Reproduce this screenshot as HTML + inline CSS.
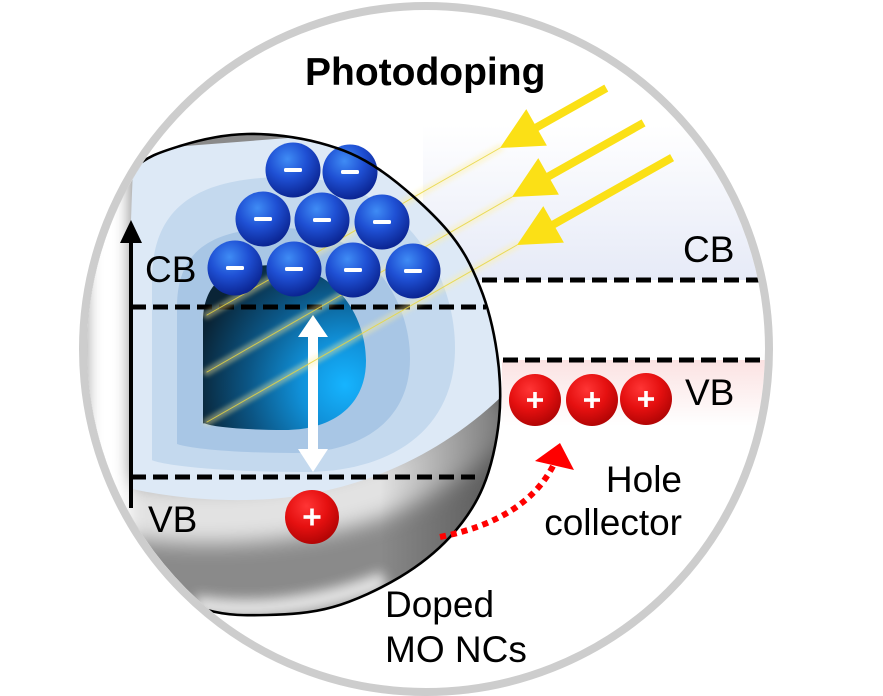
<!DOCTYPE html>
<html><head><meta charset="utf-8">
<style>
html,body{margin:0;padding:0;background:#fff;}
svg{display:block;}
text{font-family:"Liberation Sans",Arial,sans-serif;fill:#000;}
</style></head><body>
<svg width="883" height="696" viewBox="0 0 883 696" xmlns="http://www.w3.org/2000/svg">
<defs>
<clipPath id="outer"><circle cx="426" cy="349" r="339"/></clipPath>
<clipPath id="sph"><path d="M 40,380 L 90,230 C 102,195 117,184 132,170 C 147,156 160.8,152 180,146 C 199.2,140 223.7,134.5 247,134 C 270.3,133.5 297.8,137 320,143 C 342.2,149 358.8,155.5 380,170 C 401.2,184.5 430.3,210.5 447,230 C 463.7,249.5 471.7,266.5 480,287 C 488.3,307.5 493.8,330.8 497,353 C 500.2,375.2 501.3,397.7 499,420 C 496.7,442.3 491.2,467.5 483,487 C 474.8,506.5 463.8,522 450,537 C 436.2,552 419.5,565.3 400,577 C 380.5,588.7 355.2,600.7 333,607 C 310.8,613.3 288,614.5 267,615 C 246,615.5 228.2,615.8 207,610 L 150,640 Z"/></clipPath>
<linearGradient id="rdark" x1="0" y1="0" x2="1" y2="0">
 <stop offset="0" stop-color="#3a3a3a" stop-opacity="0"/>
 <stop offset="1" stop-color="#3a3a3a" stop-opacity="0.72"/>
</linearGradient>
<linearGradient id="lav" x1="0" y1="0" x2="0" y2="1">
 <stop offset="0" stop-color="#ffffff"/>
 <stop offset="1" stop-color="#e6eaf7"/>
</linearGradient>
<linearGradient id="pink" x1="0" y1="0" x2="0" y2="1">
 <stop offset="0" stop-color="#fbe2e2"/>
 <stop offset="1" stop-color="#ffffff"/>
</linearGradient>
<radialGradient id="core" gradientUnits="userSpaceOnUse" cx="345" cy="385" r="150">
 <stop offset="0" stop-color="#16b4ff"/>
 <stop offset="0.3" stop-color="#1090d8"/>
 <stop offset="0.65" stop-color="#0b5584"/>
 <stop offset="1" stop-color="#0a2436"/>
</radialGradient>
<radialGradient id="eb" cx="0.4" cy="0.3" r="0.7">
 <stop offset="0" stop-color="#3f8cf5"/>
 <stop offset="0.5" stop-color="#1f50d4"/>
 <stop offset="1" stop-color="#0b2593"/>
</radialGradient>
<radialGradient id="hb" cx="0.4" cy="0.3" r="0.7">
 <stop offset="0" stop-color="#ff3535"/>
 <stop offset="0.55" stop-color="#e51010"/>
 <stop offset="1" stop-color="#b30505"/>
</radialGradient>
<filter id="blur10" filterUnits="userSpaceOnUse" x="0" y="0" width="883" height="696"><feGaussianBlur stdDeviation="10"/></filter>
<filter id="blur8" filterUnits="userSpaceOnUse" x="0" y="0" width="883" height="696"><feGaussianBlur stdDeviation="8"/></filter>
<filter id="blur6" filterUnits="userSpaceOnUse" x="0" y="0" width="883" height="696"><feGaussianBlur stdDeviation="6"/></filter>
<filter id="blur2" filterUnits="userSpaceOnUse" x="0" y="0" width="883" height="696"><feGaussianBlur stdDeviation="2"/></filter>
</defs>

<!-- background bands -->
<g clip-path="url(#outer)">
 <rect x="423" y="125" width="380" height="155" fill="url(#lav)"/>
 <rect x="502" y="360" width="300" height="66" fill="url(#pink)"/>
</g>

<!-- right dashed lines -->
<line x1="482" y1="280" x2="762" y2="280" stroke="#000" stroke-width="5" stroke-dasharray="15 7"/>
<line x1="503" y1="360" x2="766" y2="360" stroke="#000" stroke-width="5" stroke-dasharray="15 7"/>

<!-- sphere -->
<g clip-path="url(#outer)">
 <g clip-path="url(#sph)">
  <rect x="0" y="100" width="520" height="560" fill="#8a8a8a"/>
  <path d="M 60,498 C 160,520 230,518 290,510 C 380,500 450,460 505,405" fill="none" stroke="#e2e2e2" stroke-width="56" filter="url(#blur10)"/>
  <rect x="86" y="130" width="44" height="430" fill="#ffffff" filter="url(#blur8)"/>
  <path d="M 195,604 C 250,614 320,606 385,580" fill="none" stroke="#f4f4f4" stroke-width="18" opacity="0.85" filter="url(#blur6)"/>
  <rect x="380" y="380" width="140" height="280" fill="url(#rdark)"/>
  <path d="M 132,489 C 128,380 128,260 134,150 L 520,120 L 520,397 L 501,397 C 440,455 360,492 270,499 C 210,503 160,495 132,489 Z" fill="#dde9f6"/>
  <path d="M 152,460.2 L 152,280.25 C 152,206.5 197.45,177 288.35,177 C 394.4,177 455,265.5 455,348.1 C 455,427.75 394.4,472 303.5,472 C 227.75,472 167.15,466.1 152,460.2 Z" fill="#c4d9ee"/>
  <path d="M 177,444 L 177,306.75 C 177,250.5 211.95,228 281.85,228 C 363.4,228 410,295.5 410,358.5 C 410,419.25 363.4,453 293.5,453 C 235.25,453 188.65,448.5 177,444 Z" fill="#a8c6e5"/>
  <path d="M 203,423.4 L 203,322.75 C 203,281.5 227.45,265 276.35,265 C 333.4,265 366,314.5 366,360.7 C 366,405.25 333.4,430 284.5,430 C 243.75,430 211.15,426.7 205,423.4 Z" fill="url(#core)"/>
 </g>
</g>

<!-- left dashed lines -->
<line x1="131" y1="307" x2="486" y2="307" stroke="#000" stroke-width="5" stroke-dasharray="15 7"/>
<line x1="131" y1="477" x2="475" y2="477" stroke="#000" stroke-width="5" stroke-dasharray="15 7"/>

<!-- energy axis -->
<line x1="131" y1="238" x2="131" y2="508" stroke="#000" stroke-width="4"/>
<polygon points="131,220 120,243 142,243" fill="#000"/>

<!-- white double arrow -->
<polygon points="313,315 298,337 308,337 308,449 298,449 313,472 328,449 318,449 318,337 328,337" fill="#ffffff"/>

<!-- thin light rays -->
<g stroke-linecap="round">
 <line x1="500" y1="148" x2="207" y2="315" stroke="#fff0a0" stroke-width="8" opacity="0.4" filter="url(#blur2)"/>
 <line x1="512" y1="197" x2="207" y2="372" stroke="#fff0a0" stroke-width="8" opacity="0.4" filter="url(#blur2)"/>
 <line x1="517" y1="245" x2="207" y2="422" stroke="#fff0a0" stroke-width="8" opacity="0.4" filter="url(#blur2)"/>
 <line x1="500" y1="148" x2="207" y2="315" stroke="#e8d640" stroke-width="1" opacity="0.85"/>
 <line x1="512" y1="197" x2="207" y2="372" stroke="#e8d640" stroke-width="1" opacity="0.85"/>
 <line x1="517" y1="245" x2="207" y2="422" stroke="#e8d640" stroke-width="1" opacity="0.85"/>
</g>

<!-- electrons -->
<g>
 <g transform="translate(293,170)"><circle r="27.5" fill="url(#eb)"/><rect x="-9" y="-2" width="18" height="4" rx="1.5" fill="#fff"/></g>
 <g transform="translate(350,172)"><circle r="27.5" fill="url(#eb)"/><rect x="-9" y="-2" width="18" height="4" rx="1.5" fill="#fff"/></g>
 <g transform="translate(263,219)"><circle r="27.5" fill="url(#eb)"/><rect x="-9" y="-2" width="18" height="4" rx="1.5" fill="#fff"/></g>
 <g transform="translate(322,220)"><circle r="27.5" fill="url(#eb)"/><rect x="-9" y="-2" width="18" height="4" rx="1.5" fill="#fff"/></g>
 <g transform="translate(382,222)"><circle r="27.5" fill="url(#eb)"/><rect x="-9" y="-2" width="18" height="4" rx="1.5" fill="#fff"/></g>
 <g transform="translate(235,268)"><circle r="27.5" fill="url(#eb)"/><rect x="-9" y="-2" width="18" height="4" rx="1.5" fill="#fff"/></g>
 <g transform="translate(294,269)"><circle r="27.5" fill="url(#eb)"/><rect x="-9" y="-2" width="18" height="4" rx="1.5" fill="#fff"/></g>
 <g transform="translate(353,270)"><circle r="27.5" fill="url(#eb)"/><rect x="-9" y="-2" width="18" height="4" rx="1.5" fill="#fff"/></g>
 <g transform="translate(413,271)"><circle r="27.5" fill="url(#eb)"/><rect x="-9" y="-2" width="18" height="4" rx="1.5" fill="#fff"/></g>
</g>

<!-- sphere outline -->
<g clip-path="url(#outer)">
 <path d="M 90,230 C 102,195 117,184 132,170 C 147,156 160.8,152 180,146 C 199.2,140 223.7,134.5 247,134 C 270.3,133.5 297.8,137 320,143 C 342.2,149 358.8,155.5 380,170 C 401.2,184.5 430.3,210.5 447,230 C 463.7,249.5 471.7,266.5 480,287 C 488.3,307.5 493.8,330.8 497,353 C 500.2,375.2 501.3,397.7 499,420 C 496.7,442.3 491.2,467.5 483,487 C 474.8,506.5 463.8,522 450,537 C 436.2,552 419.5,565.3 400,577 C 380.5,588.7 355.2,600.7 333,607 C 310.8,613.3 288,614.5 267,615 C 246,615.5 228.2,615.8 207,610 L 150,640" fill="none" stroke="#000" stroke-width="2.6"/>
</g>

<!-- outer ring -->
<circle cx="426" cy="349" r="343" fill="none" stroke="#cdcdcd" stroke-width="8"/>

<!-- yellow arrows -->
<g fill="#fbe016">
 <polygon transform="translate(500,148) rotate(-29.4)" points="0,0 42,-21 42,-4 122,-4 122,4 42,4 42,21"/>
 <polygon transform="translate(512,197) rotate(-29.4)" points="0,0 42,-21 42,-4 151,-4 151,4 42,4 42,21"/>
 <polygon transform="translate(517,245) rotate(-29.4)" points="0,0 42,-21 42,-4 178,-4 178,4 42,4 42,21"/>
</g>

<!-- holes -->
<g>
 <g transform="translate(312,517)"><circle r="27" fill="url(#hb)"/><rect x="-8.5" y="-1.8" width="17" height="3.6" fill="#fff"/><rect x="-1.8" y="-8.5" width="3.6" height="17" fill="#fff"/></g>
 <g transform="translate(535,400)"><circle r="26" fill="url(#hb)"/><rect x="-8" y="-1.8" width="16" height="3.6" fill="#fff"/><rect x="-1.8" y="-8" width="3.6" height="16" fill="#fff"/></g>
 <g transform="translate(592,400)"><circle r="26" fill="url(#hb)"/><rect x="-8" y="-1.8" width="16" height="3.6" fill="#fff"/><rect x="-1.8" y="-8" width="3.6" height="16" fill="#fff"/></g>
 <g transform="translate(646,399)"><circle r="26" fill="url(#hb)"/><rect x="-8" y="-1.8" width="16" height="3.6" fill="#fff"/><rect x="-1.8" y="-8" width="3.6" height="16" fill="#fff"/></g>
</g>

<!-- red dotted arrow -->
<path d="M 440,537 Q 525,520 553,466" fill="none" stroke="#ff0000" stroke-width="6" stroke-dasharray="6 5"/>
<polygon points="560,443 535,461 574,470" fill="#ff0000"/>

<!-- labels -->
<text x="305" y="85" font-size="39" font-weight="bold">Photodoping</text>
<text x="145" y="282" font-size="37">CB</text>
<text x="148" y="532" font-size="37">VB</text>
<text x="683" y="262" font-size="37">CB</text>
<text x="685" y="405" font-size="37">VB</text>
<text x="682" y="492" font-size="37" text-anchor="end">Hole</text>
<text x="682" y="535" font-size="37" text-anchor="end">collector</text>
<text x="385" y="617" font-size="37">Doped</text>
<text x="385" y="662" font-size="37">MO NCs</text>
</svg>
</body></html>
